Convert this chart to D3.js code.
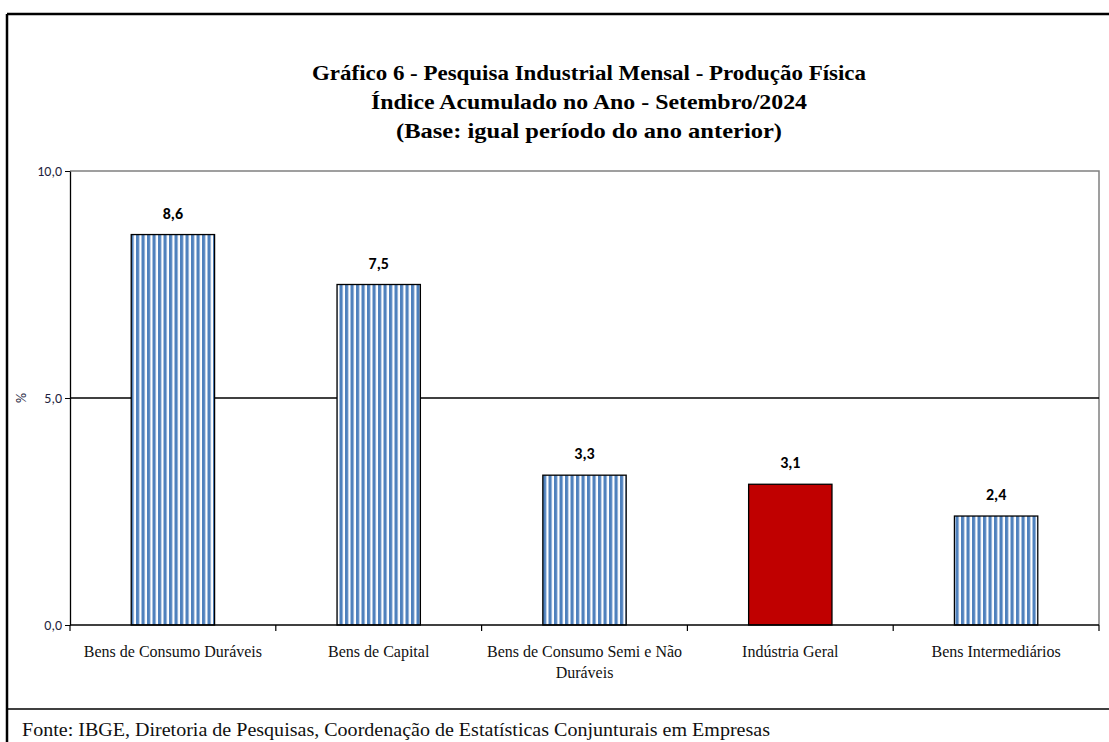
<!DOCTYPE html>
<html>
<head>
<meta charset="utf-8">
<script src="https://cdn.jsdelivr.net/npm/d3@7"></script>
<style>
  body { margin: 0; background: #fff; }
  svg text { font-family: "Liberation Serif", "DejaVu Serif", serif; }
</style>
</head>
<body>
<div id="chart"></div>
<script>
  // data
  const categories = ["Bens de Consumo Duráveis", "Bens de Capital", "Bens de Consumo Semi e Não Duráveis", "Indústria Geral", "Bens Intermediários"];
  const values = [8.6, 7.5, 3.3, 3.1, 2.4];
  const highlight = ["Indústria Geral"];
  const yTicks = [0, 5, 10];
  const titleLines = ["Gráfico 6 - Pesquisa Industrial Mensal - Produção Física",
                      "Índice Acumulado no Ano - Setembro/2024",
                      "(Base: igual período do ano anterior)"];
  const sourceText = "Fonte: IBGE, Diretoria de Pesquisas, Coordenação de Estatísticas Conjunturais em Empresas";

  const W = 1109, H = 742;
  const margin = {top: 171, right: 10, bottom: 117, left: 70};
  const width = W - margin.left - margin.right;
  const height = H - margin.top - margin.bottom;
  const sans = "Carlito, 'Liberation Sans', sans-serif";

  const svg = d3.select("#chart").append("svg")
      .attr("width", W)
      .attr("height", H);

  // stripe fill for the blue bars
  const pat = svg.append("defs").append("pattern")
      .attr("id", "stripes")
      .attr("patternUnits", "userSpaceOnUse")
      .attr("width", 5.5)
      .attr("height", 10);
  pat.append("rect").attr("width", 5.5).attr("height", 10).attr("fill", "#fff");
  pat.append("rect").attr("x", 0).attr("width", 3.2).attr("height", 10).attr("fill", "#4f81bd");

  // outer frame
  svg.append("line").attr("x1", 7).attr("x2", W).attr("y1", 14).attr("y2", 14)
    .attr("stroke", "#000").attr("stroke-width", 2.5);
  svg.append("line").attr("x1", 7).attr("x2", 7).attr("y1", 14).attr("y2", H)
    .attr("stroke", "#000").attr("stroke-width", 2.5);
  svg.append("line").attr("x1", 7).attr("x2", W).attr("y1", 709).attr("y2", 709)
    .attr("stroke", "#000").attr("stroke-width", 1.5);

  // title
  const titleW = [554, 436, 386];
  svg.append("g").selectAll("text")
    .data(titleLines)
    .enter().append("text")
    .attr("x", 589)
    .attr("y", (d, i) => 80 + i * 29)
    .attr("text-anchor", "middle")
    .attr("font-size", 22)
    .attr("font-weight", "bold")
    .attr("textLength", (d, i) => titleW[i])
    .attr("lengthAdjust", "spacingAndGlyphs")
    .text(d => d);

  const g = svg.append("g")
    .attr("transform", "translate(" + margin.left + "," + margin.top + ")");

  const x = d3.scaleBand().domain(categories).range([0, width]).padding(0);
  const y = d3.scaleLinear().domain([0, 10]).range([height, 0]);
  const barW = x.bandwidth() * 0.405;

  // plot area border (top and right, grey)
  g.append("path")
    .attr("d", "M0,0H" + width + "V" + height)
    .attr("fill", "none").attr("stroke", "#808080").attr("stroke-width", 1.5);

  // gridline at 5
  g.append("line")
    .attr("x1", 0).attr("x2", width)
    .attr("y1", y(5)).attr("y2", y(5))
    .attr("stroke", "#000").attr("stroke-width", 1.3);

  // bars
  g.append("g").selectAll("rect")
    .data(values)
    .enter().append("rect")
    .attr("x", (d, i) => x(categories[i]) + x.bandwidth() / 2 - barW / 2)
    .attr("y", d => y(d))
    .attr("width", barW)
    .attr("height", d => y(0) - y(d))
    .attr("fill", (d, i) => highlight.includes(categories[i]) ? "#c00000" : "url(#stripes)")
    .attr("stroke", "#000")
    .attr("stroke-width", 1.3);

  // value labels
  g.append("g").selectAll("text")
    .data(values)
    .enter().append("text")
    .attr("x", (d, i) => x(categories[i]) + x.bandwidth() / 2)
    .attr("y", d => y(d) - 16)
    .attr("text-anchor", "middle")
    .style("font-family", sans)
    .attr("font-size", 16)
    .attr("font-weight", "bold")
    .text(d => d3.format(".1f")(d).replace(".", ","));

  // y axis
  const yAxis = g.append("g")
    .call(d3.axisLeft(y).tickValues(yTicks).tickSize(5).tickSizeOuter(0)
      .tickFormat(d => d3.format(".1f")(d).replace(".", ",")));
  yAxis.select(".domain").attr("stroke", "#000").attr("stroke-width", 1.3);
  yAxis.selectAll(".tick line").attr("stroke", "#000");
  yAxis.selectAll(".tick text")
    .style("font-family", sans)
    .attr("font-size", 14).attr("fill", "#1f1f3f").attr("x", -8);

  svg.append("text")
    .attr("transform", "translate(26," + (margin.top + y(5)) + ") rotate(-90)")
    .attr("text-anchor", "middle")
    .style("font-family", sans)
    .attr("font-size", 14)
    .attr("fill", "#1f1f3f")
    .text("%");

  // x axis with ticks between categories
  const xAxis = g.append("g").attr("transform", "translate(0," + height + ")");
  xAxis.append("line").attr("x1", 0).attr("x2", width)
    .attr("stroke", "#000").attr("stroke-width", 1.3);
  xAxis.selectAll("line.sep")
    .data(categories.map(c => x(c)).concat([width]))
    .enter().append("line")
    .attr("class", "sep")
    .attr("x1", d => d).attr("x2", d => d)
    .attr("y1", 0).attr("y2", 6)
    .attr("stroke", "#000").attr("stroke-width", 1.2);

  const labels = xAxis.selectAll("text.cat")
    .data(categories)
    .enter().append("text")
    .attr("class", "cat")
    .attr("text-anchor", "middle")
    .attr("font-size", 16)
    .attr("fill", "#111")
    .attr("transform", d => "translate(" + (x(d) + x.bandwidth() / 2) + ",0)");
  labels.each(function(d) {
    const words = d.split(" ");
    const lines = [];
    let cur = "";
    words.forEach(w => {
      const test = cur ? cur + " " + w : w;
      if (test.length > 26 && cur) { lines.push(cur); cur = w; } else { cur = test; }
    });
    lines.push(cur);
    d3.select(this).selectAll("tspan").data(lines).enter().append("tspan")
      .attr("x", 0)
      .attr("y", (l, i) => 32 + i * 21)
      .text(l => l);
  });

  // source
  svg.append("text")
    .attr("x", 22)
    .attr("y", 736)
    .attr("font-size", 19)
    .attr("fill", "#111")
    .attr("textLength", 748)
    .attr("lengthAdjust", "spacingAndGlyphs")
    .text(sourceText);
</script>
</body>
</html>
